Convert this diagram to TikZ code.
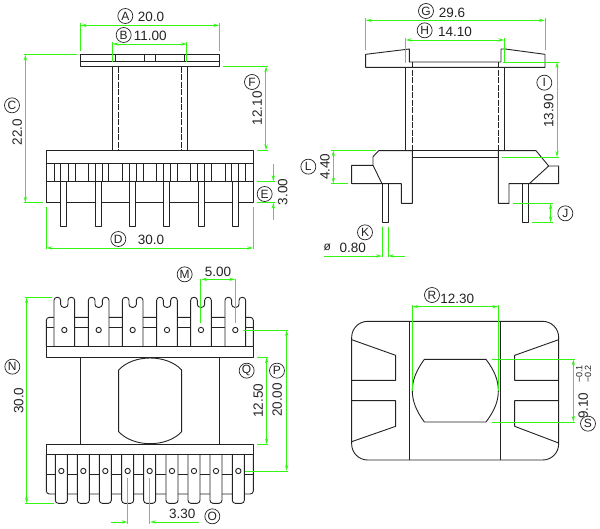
\documentclass[tikz,border=0pt]{standalone}
\usepackage{fontspec}
\setmainfont{Liberation Sans}
\usetikzlibrary{arrows.meta}
\definecolor{cad}{RGB}{35,35,35}
\definecolor{dimgreen}{RGB}{50,245,20}
\tikzset{
  part/.style={draw=cad,line width=0.9pt,line join=round},
  hid/.style={draw=cad,line width=0.9pt,dash pattern=on 6pt off 1.5pt},
  dimline/.style={draw=dimgreen,line width=1pt,{Stealth[length=6pt,width=3.2pt]}-{Stealth[length=6pt,width=3.2pt]}},
  oneway/.style={draw=dimgreen,line width=1pt,-{Stealth[length=6pt,width=3.2pt]}},
  ext/.style={draw=dimgreen,line width=1pt},
  val/.style={text=cad,font=\fontsize{13.5}{14}\selectfont,inner sep=0pt},
  valv/.style={val,rotate=90},
  tag/.style={circle,draw=cad,line width=0.7pt,text=cad,minimum size=15pt,inner sep=0pt,font=\fontsize{12}{12}\selectfont},
  tiny/.style={text=cad,font=\fontsize{9}{10}\selectfont,inner sep=0pt,rotate=90},
  quad/.style={x=0.33333pt,y=-0.33333pt}
}
\begin{document}
\begin{tikzpicture}[x=1pt,y=-1pt]
\useasboundingbox (0,0) rectangle (600,528);
\fill[white] (0,0) rectangle (600,528);
%% top-left view
\begin{scope}[quad]
\draw[part] (242,164) rectangle (658,200);
\draw[part] (242,185) -- (658,185);
\foreach \x in {345,433,466,553} \draw[part] (\x,164) -- (\x,185);
\draw[part] (338,200) -- (338,452);
\draw[part] (561,200) -- (561,452);
\draw[hid] (356,200) -- (356,452);
\draw[hid] (544,200) -- (544,452);
\draw[part] (139,452) rectangle (760,608);
\draw[part] (139,489) -- (760,489);
\draw[part] (139,544) -- (760,544);
\foreach \x in {162,182,205,226,266,285,306,326,366,387,408,429,470,490,511,532,572,593,613,634,675,695,716,737}
  \draw[part] (\x,489) -- (\x,544);
\foreach \x in {182,285,388,491,594,696}
  \draw[part,fill=white] (\x,544) rectangle (\x+18,680);
\draw[dimline] (242,76) -- (658,76);
\draw[ext] (242,70) -- (242,152);
\draw[ext] (658,70) -- (658,152);
\draw[dimline] (338,132) -- (561,132);
\draw[ext] (338,125) -- (338,185);
\draw[ext] (561,125) -- (561,185);
\draw[dimline] (76,164) -- (76,608);
\draw[ext] (72,163) -- (230,163);
\draw[ext] (72,608) -- (128,608);
\draw[dimline] (139,744) -- (760,744);
\draw[ext] (139,620) -- (139,748);
\draw[ext] (760,620) -- (760,748);
\draw[oneway] (820,492) -- (820,544);
\draw[oneway] (820,660) -- (820,608);
\draw[ext] (770,544) -- (825,544);
\draw[ext] (770,608) -- (825,608);
\draw[dimline] (798,199) -- (798,451);
\draw[ext] (668,199) -- (803,199);
\draw[ext] (772,451) -- (803,451);
\node[tag] (tA) at (376,48) {A};
\node[val] (vA) at (453,52) {20.0};
\node[tag] (tB) at (371,105) {B};
\node[val] (vB) at (451,107) {11.00};
\node[tag] (tC) at (36,316) {C};
\node[valv] (vC) at (52,397) {22.0};
\node[tag] (tD) at (355,717) {D};
\node[val] (vD) at (453,719) {30.0};
\node[tag] (tE) at (794,582) {E};
\node[valv] (vE) at (848,576) {3.00};
\node[tag] (tF) at (756,246) {F};
\node[valv] (vF) at (772,325) {12.10};
\end{scope}
%% top-right view
\begin{scope}[shift={(300,0)},quad]
\draw[part] (197,163) -- (328,147) -- (328,186) -- (603,186) -- (603,147) -- (616,147) -- (735,163) -- (735,202) -- (197,202) -- cycle;
\draw[part] (317,202) -- (317,452);
\draw[part] (613,202) -- (613,452);
\draw[hid] (337,186) -- (337,452);
\draw[hid] (595,186) -- (595,452);
\draw[part] (337,471) -- (595,471);
\draw[part] (337,452) -- (595,452);
\draw[part] (337,452) -- (236,452) -- (219,470) -- (219,496) -- (155,496) -- (155,551) -- (304,551) -- (304,610) -- (337,610) -- cycle;
\draw[part] (219,496) -- (246,551);
\draw[part] (246,551) rectangle (264,667);
\draw[part] (595,452) -- (708,452) -- (746,498) -- (776,498) -- (776,551) -- (627,551) -- (627,610) -- (595,610) -- cycle;
\draw[part] (746,498) -- (688,551);
\draw[part] (667,551) rectangle (686,667);
\draw[dimline] (197,61) -- (735,61);
\draw[ext] (197,55) -- (197,150);
\draw[ext] (735,55) -- (735,150);
\draw[dimline] (317,120) -- (613,120);
\draw[ext] (317,115) -- (317,188);
\draw[ext] (613,115) -- (613,188);
\draw[dimline] (771,186) -- (771,471);
\draw[ext] (610,186) -- (776,186);
\draw[ext] (605,471) -- (776,471);
\draw[dimline] (100,451) -- (100,551);
\draw[ext] (92,451) -- (228,451);
\draw[ext] (92,551) -- (143,551);
\draw[dimline] (752,610) -- (752,667);
\draw[ext] (640,610) -- (760,610);
\draw[ext] (697,667) -- (760,667);
\draw[ext] (246,680) -- (246,772);
\draw[ext] (264,680) -- (264,772);
\draw[oneway] (72,768) -- (246,768);
\draw[oneway] (314,768) -- (264,768);
\node[tag] (tG) at (378,33) {G};
\node[val] (vG) at (456,38) {29.6};
\node[tag] (tH) at (374,91) {H};
\node[val] (vH) at (465,96) {14.10};
\node[tag] (tI) at (733,248) {I};
\node[valv] (vI) at (746,333) {13.90};
\node[tag] (tL) at (25,500) {L};
\node[valv] (vL) at (75,500) {4.40};
\node[tag] (tJ) at (796,640) {J};
\node[tag] (tK) at (195,697) {K};
\node[text=cad,inner sep=0pt,font=\fontsize{12}{12}\selectfont] (vphi) at (82,742) {ø};
\node[val] (vK) at (158,743) {0.80};
\end{scope}
%% bottom-left view
\begin{scope}[shift={(0,264)},quad]
\draw[part,rounded corners=3pt] (139,247) -- (139,160) -- (760,160) -- (760,247);
\draw[part] (139,190) -- (760,190);
\foreach \x in {162,265,367,470,572,675}{
  \draw[part,fill=white,rounded corners=3pt] (\x,247) -- (\x,100) -- (\x+20,100) -- (\x+20,130) -- (\x+42,130) -- (\x+42,100) -- (\x+62,100) -- (\x+62,247);
  \draw[part] (\x+31,198) circle (8);
}
\draw[part] (139,247) rectangle (760,279);
\draw[part] (242,279) -- (242,541);
\draw[part] (658,279) -- (658,541);
\draw[part] (356,318) .. controls (400,270) and (501,270) .. (545,318) -- (545,503) .. controls (501,551) and (400,551) .. (356,503) -- cycle;
\draw[part,rounded corners=3pt] (139,571) -- (139,690) -- (760,690) -- (760,571);
\draw[part] (139,630) -- (760,630);
\foreach \x in {166,232,298,365,431,498,564,630,697}{
  \draw[part,fill=white,rounded corners=3pt] (\x,571) -- (\x,718) -- (\x+36,718) -- (\x+36,571);
  \draw[part] (\x+18,621) circle (8);
}
\draw[part] (139,541) rectangle (760,571);
\draw[dimline] (80,100) -- (80,718);
\draw[ext] (76,100) -- (157,100);
\draw[ext] (76,718) -- (162,718);
\draw[dimline] (603,46) -- (706,46);
\draw[ext] (603,46) -- (603,178);
\draw[ext] (706,46) -- (706,178);
\draw[dimline] (860,198) -- (860,621);
\draw[ext] (728,198) -- (863,198);
\draw[ext] (735,621) -- (863,621);
\draw[dimline] (800,279) -- (800,541);
\draw[ext] (772,279) -- (805,279);
\draw[ext] (772,541) -- (805,541);
\draw[ext] (383,642) -- (383,780);
\draw[ext] (450,642) -- (450,780);
\draw[oneway] (333,774) -- (383,774);
\draw[oneway] (597,774) -- (450,774);
\node[tag] (tN) at (37,308) {N};
\node[valv] (vN) at (56,410) {30.0};
\node[tag] (tM) at (554,31) {M};
\node[val] (vM) at (654,24) {5.00};
\node[tag] (tP) at (831,320) {P};
\node[valv] (vP) at (832,408) {20.00};
\node[tag] (tQ) at (740,320) {Q};
\node[valv] (vQ) at (775,410) {12.50};
\node[val] (vO) at (547,751) {3.30};
\node[tag] (tO) at (637,757) {O};
\end{scope}
%% bottom-right view
\begin{scope}[shift={(300,264)},quad]
\draw[part,rounded corners=16pt] (155,172) rectangle (776,588);
\draw[part] (328,172) -- (328,588);
\draw[part] (602,172) -- (602,588);
\draw[part] (155,227) -- (287,274) -- (287,349) -- (155,349);
\draw[part] (155,410) -- (287,410) -- (287,487) -- (155,533);
\draw[part] (776,227) -- (644,274) -- (644,349) -- (776,349);
\draw[part] (776,410) -- (644,410) -- (644,487) -- (776,537);
\draw[part] (373,286) -- (558,286) .. controls (585,322) and (595,350) .. (595,380) .. controls (595,410) and (585,438) .. (558,474) -- (373,474) .. controls (347,438) and (337,410) .. (337,380) .. controls (337,350) and (347,322) .. (373,286) -- cycle;
\draw[dimline] (337,128) -- (595,128);
\draw[ext] (337,123) -- (337,380);
\draw[ext] (595,123) -- (595,380);
\draw[dimline] (820,286) -- (820,474);
\draw[ext] (577,286) -- (825,286);
\draw[ext] (577,474) -- (825,474);
\node[tag] (tR) at (396,93) {R};
\node[val] (vR) at (472,104) {12.30};
\node[valv] (vS) at (850,425) {9.10};
\node[tiny] (vSa) at (838,330) {−0.1};
\node[tiny] (vSb) at (864,330) {−0.2};
\node[tag] (tS) at (864,479) {S};
\end{scope}
\end{tikzpicture}
\end{document}
